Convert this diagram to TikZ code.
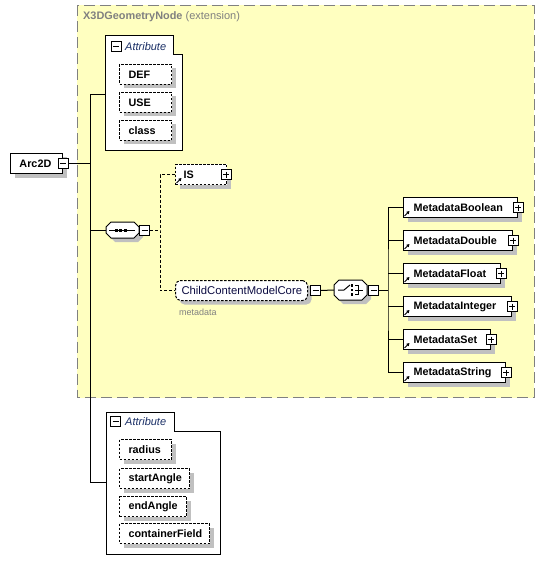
\documentclass[tikz,border=0pt]{standalone}
\usepackage{fontspec}
\setmainfont{Liberation Sans}
\usetikzlibrary{shadows,arrows.meta}
\definecolor{bgyellow}{HTML}{FFFFC0}
\definecolor{shadowgray}{HTML}{C0C0C0}
\definecolor{framegray}{HTML}{808080}
\definecolor{attrblue}{HTML}{1A2F66}
\definecolor{navy}{HTML}{0A0A40}
\newcommand\refmark[1]{\draw[line width=0.9pt,-{Triangle[length=3pt,width=3.2pt]}] ([shift={(1.5,-2)}]#1.south west) -- ([shift={(6.5,-7)}]#1.south west);}
\newcommand\octshape[5]{\path[#5] (#1+5,#2) -- (#3-5,#2) -- (#3,#2+5) -- (#3,#4-5) -- (#3-5,#4) -- (#1+5,#4) -- (#1,#4-5) -- (#1,#2+5) -- cycle;}
\tikzset{
  x=1pt, y=-1pt,
  lw/.style={line width=1pt},
  elem/.style={draw, fill=white, lw, anchor=north west, inner xsep=9pt, inner ysep=0pt,
    minimum height=20pt, align=left, font=\fontsize{10.8}{12}\selectfont\bfseries,
    drop shadow={shadow xshift=4pt, shadow yshift=-4pt, fill=shadowgray, opacity=1}},
  optelem/.style={elem, dash pattern=on 2.5pt off 1.5pt},
  metaelem/.style={elem, inner xsep=10pt},
  icon/.style={draw, fill=white, lw, minimum size=10pt, inner sep=0pt, solid},
  minusbox/.style={icon, path picture={\draw[lw] ([xshift=2pt]path picture bounding box.west) -- ([xshift=-2pt]path picture bounding box.east);}},
  plusbox/.style={icon, path picture={\draw[lw] ([xshift=2pt]path picture bounding box.west) -- ([xshift=-2pt]path picture bounding box.east); \draw[lw] ([yshift=-2pt]path picture bounding box.north) -- ([yshift=2pt]path picture bounding box.south);}},
  conn/.style={lw},
  optconn/.style={lw, dash pattern=on 3pt off 2pt},
  attrframe/.style={draw, fill=white, lw},
  attrtitle/.style={font=\fontsize{11}{13}\selectfont\itshape, text=attrblue, anchor=west, inner sep=0pt},
  anchorbox/.style={inner sep=0pt, minimum width=33pt, minimum height=20pt},
}
\begin{document}
\begin{tikzpicture}
\useasboundingbox (0,0) rectangle (545,572);
% extension region
\draw[fill=bgyellow, draw=framegray, line width=1pt, dash pattern=on 11pt off 5pt] (77,5.5) rectangle (534,397.5);
\node[anchor=west, inner sep=0pt, text=framegray, font=\fontsize{11}{13}\selectfont] (title) at (83,17) {{\fontsize{10.9}{13}\selectfont\bfseries X3DGeometryNode} (extension)};

% root element
\node[elem, text width=34pt] (arc) at (10,153) {Arc2D};
\node[minusbox] (arcm) at (arc.east) {};
\coordinate (tk) at (90,162);

% first attribute group
\draw[attrframe] (105,36) -- (173,36) -- (173,55) -- (182,55) -- (182,151) -- (105,151) -- cycle;
\coordinate (attr1w) at (105,95);
\node[minusbox] (a1m) at (116,47) {};
\node[attrtitle] (a1t) at (125,47) {Attribute};
\node[optelem, text width=34pt] (def) at (119,64) {DEF};
\node[optelem, text width=34pt] (use) at (119,92) {USE};
\node[optelem, text width=34pt] (cls) at (119,120) {class};

% sequence compositor
\octshape{110}{226}{143}{242}{fill=shadowgray}
\octshape{106}{222}{139}{238}{draw, fill=white, lw}
\node[anchorbox, minimum height=16pt] (seq) at (122.5,230) {};
\draw[lw] (109,230) -- (135,230);
\foreach \dx in {114.5,119,123.5} \fill (\dx,228.5) rectangle +(3,3);
\node[minusbox, anchor=west] (seqm) at (seq.east) {};
\coordinate (ox) at (160,230);

% IS
\node[optelem, inner xsep=8pt, text width=35pt] (is) at (175,164) {IS};
\node[plusbox] (isp) at ([xshift=-1pt]is.east) {};
\refmark{is}

% ChildContentModelCore
\node[elem, dash pattern=on 2.5pt off 1.5pt, rounded corners=5pt, inner xsep=6pt, text width=120pt,
  font=\fontsize{11.3}{13}\selectfont, text=navy] (ccmc) at (175,280) {ChildContentModelCore};
\node[minusbox, anchor=west] (ccmcm) at ([xshift=2pt]ccmc.east) {};
\node[anchor=west, inner sep=0pt, text=framegray, font=\fontsize{9}{11}\selectfont] (md) at (179,312) {metadata};

% choice compositor
\octshape{338}{284}{371}{304}{fill=shadowgray}
\octshape{334}{280}{367}{300}{draw, fill=white, lw}
\node[anchorbox] (cho) at (350.5,290) {};
\draw[lw] (338,290) -- (344,290) -- (350,285);
\foreach \dy in {284,288.5,293} \fill (350.5,\dy) rectangle +(2.5,2.5);
\draw[lw] (355,285.5) -- (358,285.5) -- (358,294.5) -- (355,294.5);
\draw[lw] (355,290) -- (363,290);
\node[minusbox, anchor=west] (chom) at ([xshift=1pt]cho.east) {};
\coordinate (cx) at (388,290);

% metadata elements
\node[metaelem, text width=94pt] (mbool) at (403,197) {MetadataBoolean};
\node[metaelem, text width=89pt] (mdbl) at (403,230) {MetadataDouble};
\node[metaelem, text width=77pt] (mflt) at (403,263) {MetadataFloat};
\node[metaelem, text width=88pt] (mint) at (403,296) {MetadataInteger};
\node[metaelem, text width=67pt] (mset) at (403,329) {MetadataSet};
\node[metaelem, text width=82pt] (mstr) at (403,362) {MetadataString};
\foreach \n in {mbool,mdbl,mflt,mint,mset,mstr} {
  \node[plusbox] (\n p) at (\n.east) {};
  \refmark{\n}
}

% second attribute group
\draw[attrframe] (106,412) -- (174,412) -- (174,431) -- (220,431) -- (220,554) -- (106,554) -- cycle;
\coordinate (attr2w) at (106,482);
\node[minusbox] (a2m) at (115.5,421.5) {};
\node[attrtitle] (a2t) at (125,421.5) {Attribute};
\node[optelem, text width=34pt] (rad) at (119,439) {radius};
\node[optelem, text width=52pt] (sta) at (119,468) {startAngle};
\node[optelem, text width=49pt] (ena) at (119,496) {endAngle};
\node[optelem, text width=72pt] (cf) at (119,523) {containerField};

% connectors
\draw[conn] (arcm.east) -- (arcm.east -| tk);
\draw[conn] (attr1w) -- (attr1w -| tk) -- (attr2w -| tk) -- (attr2w);
\draw[conn] (seq.west -| tk) -- (seq.west);
\draw[optconn] (seqm.east) -- (ox);
\draw[optconn] (is.west) -| (ox) |- (ccmc.west);
\draw[conn] (ccmcm.east) -- (cho.west);
\draw[conn] (chom.east) -- (cx);
\draw[conn] (mbool.west) -| (cx) |- (mstr.west);
\foreach \n in {mdbl,mflt,mint,mset} \draw[conn] (\n.west -| cx) -- (\n.west);
\end{tikzpicture}
\end{document}
